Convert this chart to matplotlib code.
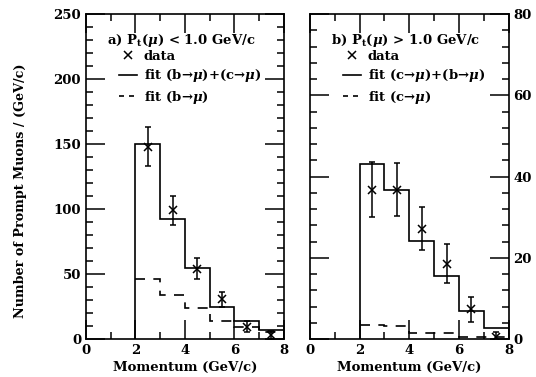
import numpy as np
import matplotlib.pyplot as plt
from matplotlib.lines import Line2D
from matplotlib.ticker import MultipleLocator

plt.rcParams['font.family'] = 'DejaVu Serif'
plt.rcParams['font.weight'] = 'bold'
plt.rcParams['mathtext.fontset'] = 'dejavuserif'

edges = [2, 3, 4, 5, 6, 7, 8]
centers = [2.5, 3.5, 4.5, 5.5, 6.5, 7.5]

# panel a) Pt < 1.0 GeV/c
fit_a = [150, 92.5, 54.5, 25, 14, 7]
fit_b_a = [46.5, 33.5, 23.5, 14, 9.5, 5.5]
data_a = [148, 99, 54, 30.5, 9.5, 3]
err_a = [15, 11, 8, 6, 4, 3]

# panel b) Pt > 1.0 GeV/c
fit_b = [43.2, 36.8, 24.1, 15.4, 6.9, 2.6]
fit_c_b = [3.4, 3.2, 1.4, 1.4, 0.6, 0.6]
data_b = [36.8, 36.8, 27.2, 18.5, 7.3, 0.6]
err_b = [6.8, 6.6, 5.4, 4.8, 3.1, 1.0]

fig = plt.figure(figsize=(5.36, 3.77), dpi=100)
ax1 = fig.add_axes([0.1604, 0.1008, 0.369, 0.862])
ax2 = fig.add_axes([0.578, 0.1008, 0.371, 0.862])

dash = (0, (6, 5))

def draw(ax, fit, part, data, err, ymax, ymaj, ymin):
    ax.stairs(fit, edges, baseline=0, color='black', lw=1.2)
    ax.stairs(part, edges, baseline=None, color='black', lw=1.2, linestyle=dash)
    ax.errorbar(centers, data, yerr=err, fmt='x', color='black', ms=6,
                mew=1.1, elinewidth=1.1, capsize=2.5, capthick=1.1)
    ax.set_xlim(0, 8)
    ax.set_ylim(0, ymax)
    ax.xaxis.set_major_locator(MultipleLocator(2))
    ax.xaxis.set_minor_locator(MultipleLocator(1))
    ax.yaxis.set_major_locator(MultipleLocator(ymaj))
    ax.yaxis.set_minor_locator(MultipleLocator(ymin))
    ax.tick_params(which='both', direction='in', top=True, right=True,
                   width=1.1, labelsize=9.5)
    ax.tick_params(which='major', length=14)
    ax.tick_params(which='minor', length=5)
    for s in ax.spines.values():
        s.set_linewidth(1.2)
    ax.set_xlabel('Momentum (GeV/c)', fontsize=9.5, fontweight='bold', labelpad=3)

draw(ax1, fit_a, fit_b_a, data_a, err_a, 250, 50, 10)
draw(ax2, fit_b, fit_c_b, data_b, err_b, 80, 20, 4)
ax2.tick_params(labelleft=False, labelright=True)

ax1.set_ylabel('Number of Prompt Muons / (GeV/c)', fontsize=9.2,
               fontweight='bold')
ax1.yaxis.set_label_coords(-0.30, 0.455)

def legend(ax, title, l1, l2):
    ax.text(0.105, 0.92, title, transform=ax.transAxes, fontsize=9.5,
            fontweight='bold', va='center')
    h = [Line2D([], [], color='black', marker='x', ls='none', ms=6, mew=1.1),
         Line2D([], [], color='black', lw=1.2),
         Line2D([], [], color='black', lw=1.2, linestyle=(0, (3, 3)))]
    ax.legend(h, ['data', l1, l2], loc='upper left',
              bbox_to_anchor=(0.165, 0.89), frameon=False, fontsize=9.5,
              handlelength=1.4, handletextpad=0.5, labelspacing=0.35,
              borderpad=0, borderaxespad=0)

legend(ax1, r'a) P$_\mathbf{t}$($\mu$) < 1.0 GeV/c',
       r'fit (b→$\mu$)+(c→$\mu$)', r'fit (b→$\mu$)')
legend(ax2, r'b) P$_\mathbf{t}$($\mu$) > 1.0 GeV/c',
       r'fit (c→$\mu$)+(b→$\mu$)', r'fit (c→$\mu$)')

fig.savefig('out.png', dpi=100)
